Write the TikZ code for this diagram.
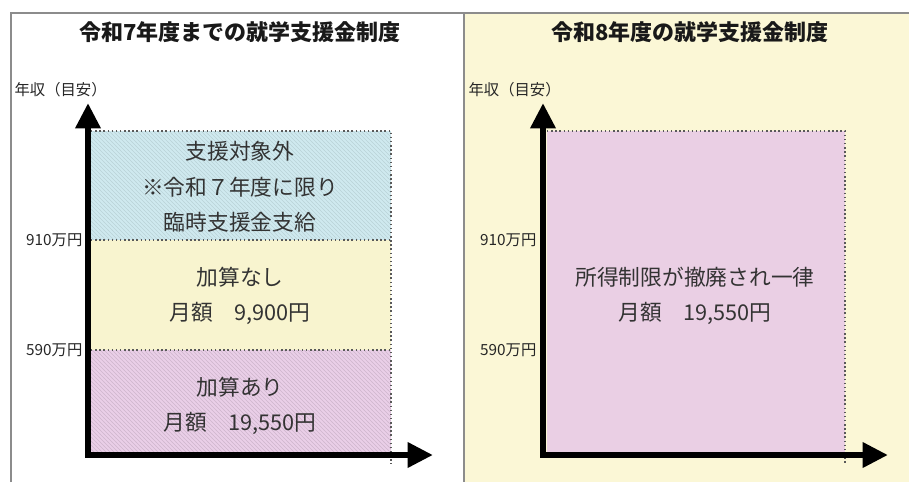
\documentclass[tikz,border=0pt]{standalone}
\usepackage{fontspec}
\setmainfont{Noto Sans CJK JP}
\usetikzlibrary{arrows.meta,patterns,positioning}
\definecolor{skyband}{HTML}{CFE9EF}
\definecolor{creamband}{HTML}{F8F4CF}
\definecolor{lilacband}{HTML}{EACFE8}
\definecolor{lilacflat}{HTML}{EACFE4}
\definecolor{panelcream}{HTML}{FBF7D6}
\definecolor{framegray}{HTML}{8C8C8C}
\tikzset{
  axis/.style={line width=5pt,line join=miter,{Triangle[length=19pt,width=18pt]}-{Triangle[length=19pt,width=18pt]}},
  band/.style={draw=black!65,dotted,line width=1.1pt},
  hatch/.style={pattern=north west lines,pattern color=#1},
  heading/.style={font=\fontsize{16.5}{20}\selectfont\bfseries,text=black!90},
  bandtext/.style={font=\fontsize{16.3}{26.5}\selectfont,align=center,text=black!80},
  ticktext/.style={font=\fontsize{11.5}{13}\selectfont,text=black!85,inner sep=1pt}
}
\begin{document}
\begin{tikzpicture}[x=0.75pt,y=-0.75pt]
\useasboundingbox (0,0) rectangle (909,482);
% frame
\fill[panelcream] (465,13) rectangle (909,482);
\draw[framegray,line width=1pt] (11,482) -- (11,13) -- (909,13) (464,13) -- (464,482);
% left panel: bands
\fill[skyband] (91,131) rectangle (391,240);
\fill[hatch=skyband!90!black] (91,131) rectangle (391,240);
\fill[creamband] (91,240) rectangle (391,350);
\fill[lilacband] (91,350) rectangle (391,452);
\fill[hatch=lilacband!88!black] (91,350) rectangle (391,452);
\draw[band] (91,131) -- (391,131) -- (391,464) (91,240) -- (391,240) (91,350) -- (391,350);
\node[heading] (oldtitle) at (240,32) {令和7年度までの就学支援金制度};
\node[ticktext,anchor=west] (oldunit) at (13,90) {年収（目安）};
\node[ticktext,anchor=east] (old910) at (84,240) {910万円};
\node[ticktext,anchor=east] (old590) at (84,350) {590万円};
\node[bandtext] (oldtop) at (240,187) {支援対象外\\※令和７年度に限り\\臨時支援金支給};
\node[bandtext] (oldmid) at (240,296) {加算なし\\月額　9,900円};
\node[bandtext] (oldlow) at (240,406) {加算あり\\月額　19,550円};
\coordinate (oldytip) at (88,103);
\coordinate (oldorigin) at (88,455);
\coordinate (oldxtip) at (433,455);
\draw[axis] (oldytip) -- (oldorigin) -- (oldxtip);
% right panel
\fill[lilacflat] (547,131) rectangle (845,452);
\draw[band] (547,131) -- (845,131) -- (845,464);
\node[heading] (newtitle) at (690,32) {令和8年度の就学支援金制度};
\node[ticktext,anchor=west] (newunit) at (467,90) {年収（目安）};
\node[ticktext,anchor=east] (new910) at (538,240) {910万円};
\node[ticktext,anchor=east] (new590) at (538,350) {590万円};
\node[bandtext] (newall) at (695,296) {所得制限が撤廃され一律\\月額　19,550円};
\coordinate (newytip) at (543,103);
\coordinate (neworigin) at (543,455);
\coordinate (newxtip) at (888,455);
\draw[axis] (newytip) -- (neworigin) -- (newxtip);
\end{tikzpicture}
\end{document}
